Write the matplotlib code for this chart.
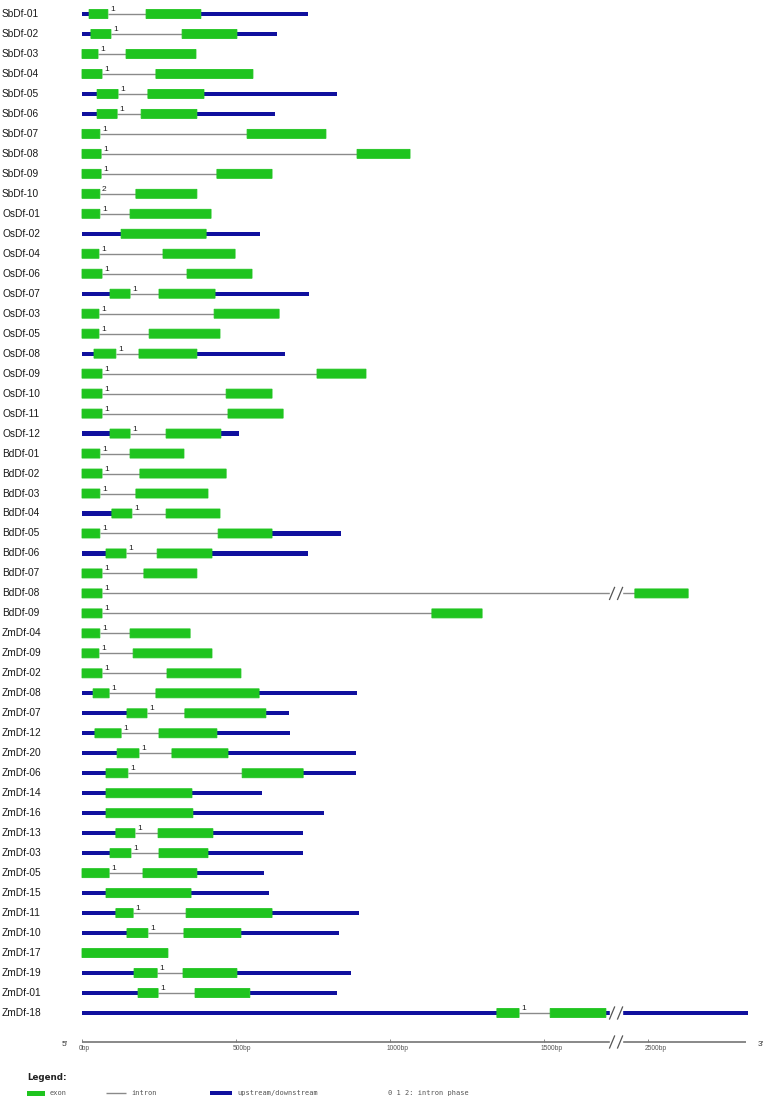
import matplotlib
matplotlib.use("Agg")
import matplotlib.pyplot as plt
from matplotlib.patches import FancyBboxPatch

plt.rcParams['font.family'] = ['Liberation Sans', 'DejaVu Sans']

# ---------------- data (bp, axis units; values past the break are in compressed axis units)
names = ["SbDf-01", "SbDf-02", "SbDf-03", "SbDf-04", "SbDf-05", "SbDf-06", "SbDf-07", "SbDf-08",
         "SbDf-09", "SbDf-10", "OsDf-01", "OsDf-02", "OsDf-04", "OsDf-06", "OsDf-07", "OsDf-03",
         "OsDf-05", "OsDf-08", "OsDf-09", "OsDf-10", "OsDf-11", "OsDf-12", "BdDf-01", "BdDf-02",
         "BdDf-03", "BdDf-04", "BdDf-05", "BdDf-06", "BdDf-07", "BdDf-08", "BdDf-09", "ZmDf-04",
         "ZmDf-09", "ZmDf-02", "ZmDf-08", "ZmDf-07", "ZmDf-12", "ZmDf-20", "ZmDf-06", "ZmDf-14",
         "ZmDf-16", "ZmDf-13", "ZmDf-03", "ZmDf-05", "ZmDf-15", "ZmDf-11", "ZmDf-10", "ZmDf-17",
         "ZmDf-19", "ZmDf-01", "ZmDf-18"]
exon1_start = [23, 29, 0, 0, 49, 49, 0, 0, 0, 0, 0, 127, 0, 0, 91, 0,
               0, 39, 0, 0, 0, 91, 0, 0, 0, 97, 0, 78, 0, 0, 0, 0,
               0, 0, 36, 146, 42, 114, 78, 78, 78, 110, 91, 0, 78, 110, 146, 0,
               169, 182, 1347]
exon1_end = [84, 94, 52, 65, 117, 114, 58, 62, 62, 58, 58, 403, 55, 65, 156, 55,
             55, 110, 65, 65, 65, 156, 58, 65, 58, 162, 58, 143, 65, 65, 65, 58,
             55, 65, 88, 211, 127, 185, 149, 357, 360, 172, 159, 88, 354, 166, 214, 279,
             244, 247, 1419]
# second exon (None = single-exon gene)
exon2_start = [208, 325, 143, 240, 214, 192, 536, 893, 438, 175, 156, None, 263, 341, 250, 429,
               218, 185, 763, 468, 474, 273, 156, 188, 175, 273, 442, 244, 201, 1795, 1136, 156,
               166, 276, 240, 334, 250, 292, 520, None, None, 247, 250, 198, None, 338, 331, None,
               328, 367, 1520]
exon2_end = [386, 503, 370, 555, 396, 373, 792, 1065, 617, 373, 419, None, 497, 552, 432, 640,
             448, 373, 922, 617, 653, 451, 331, 468, 409, 448, 617, 422, 373, 1968, 1299, 351,
             422, 516, 575, 597, 438, 474, 718, None, None, 425, 409, 373, None, 617, 516, None,
             503, 545, 1701]
gene_end = [734, 633, 370, 555, 828, 627, 792, 1065, 617, 373, 419, 578, 497, 552, 737, 640,
            448, 659, 922, 617, 653, 510, 331, 468, 409, 448, 841, 734, 373, 1968, 1299, 351,
            422, 516, 893, 672, 675, 890, 890, 584, 786, 718, 718, 591, 607, 899, 834, 279,
            873, 828, 2162]
phase = [1, 1, 1, 1, 1, 1, 1, 1, 1, 2, 1, None, 1, 1, 1, 1,
         1, 1, 1, 1, 1, 1, 1, 1, 1, 1, 1, 1, 1, 1, 1, 1,
         1, 1, 1, 1, 1, 1, 1, None, None, 1, 1, 1, None, 1, 1, None,
         1, 1, 1]
break_pos = 1734          # position of the "//" axis break
broken_genes = ["BdDf-08", "ZmDf-18"]
tick_pos = [0, 500, 1000, 1500, 1838]
tick_labels = ["0bp", "500bp", "1000bp", "1500bp", "2500bp"]
axis_end = 2155

# ---------------- style
GREEN = "#1FC41F"
BLUE = "#10109E"
GRAY = "#8a8a8a"
W, H = 769, 1104
X0_PX, PX_PER_500 = 82, 154.0
ROW0_PX, ROW_PX = 14.0, 19.98


def px2x(px):
    return (px - X0_PX) * 500.0 / PX_PER_500


def px2y(px):
    return (px - ROW0_PX) / ROW_PX


bpx = 500.0 / PX_PER_500   # bp per pixel
rpx = 1.0 / ROW_PX         # rows per pixel

fig = plt.figure(figsize=(W / 100, H / 100), dpi=100)
ax = fig.add_axes([0, 0, 1, 1])
ax.set_xlim(px2x(0), px2x(W))
ax.set_ylim(px2y(H), px2y(0))
ax.axis('off')

exon_h = 9 * rpx
utr_h = 4.3 * rpx


def exon(x0, x1, y):
    p = FancyBboxPatch((x0, y - exon_h / 2), x1 - x0, exon_h,
                       boxstyle="round,pad=0,rounding_size=0.0", fc=GREEN, ec=GREEN, lw=0.6, zorder=3)
    ax.add_patch(p)


def break_marks(y, x, height=12):
    g = 4 * bpx
    ax.fill_between([x - g - 2 * bpx, x + g + 2 * bpx], y - 6 * rpx, y + 6 * rpx, color="white", zorder=5)
    for dx in (-g, g):
        ax.plot([x + dx - 2.5 * bpx, x + dx + 2.5 * bpx], [y + height / 2 * rpx, y - height / 2 * rpx],
                color="#555555", lw=0.9, zorder=6)


for i, nm in enumerate(names):
    y = i
    ax.text(px2x(2), y, nm, fontsize=7.3, color="#1a1a1a", va="center", ha="left")
    e1s, e1e, e2s, e2e, ge = exon1_start[i], exon1_end[i], exon2_start[i], exon2_end[i], gene_end[i]
    # UTR (blue)
    last_end = e2e if e2e is not None else e1e
    if e1s > 0:
        ax.barh(y, e1s, left=0, height=utr_h, color=BLUE, zorder=2)
    if ge > last_end:
        ax.barh(y, ge - last_end, left=last_end, height=utr_h, color=BLUE, zorder=2)
    # intron
    if e2s is not None:
        ax.hlines(y, e1e, e2s, color=GRAY, lw=1.0, zorder=1)
    exon(e1s, e1e, y)
    if e2s is not None:
        exon(e2s, e2e, y)
    if phase[i] is not None:
        ax.text(e1e + 2 * bpx, y - 4.5 * rpx, str(phase[i]), fontsize=6, color="#222222",
                ha="left", va="center", zorder=4)
    if nm in broken_genes:
        break_marks(y, break_pos)

# ---------------- axis
ay = px2y(1042)
ax.hlines(ay, 0, axis_end, color="#888888", lw=1.4)
ax.text(px2x(62), ay + 2 * rpx, "5'", fontsize=6, ha="left", va="center", color="#333333")
ax.text(px2x(758), ay + 2 * rpx, "3'", fontsize=6, ha="left", va="center", color="#333333")
for tp, tl in zip(tick_pos, tick_labels):
    ax.vlines(tp, ay - 3 * rpx, ay, color="#777777", lw=0.6)
    ax.text(tp - 3 * bpx, ay + 6 * rpx, tl, fontsize=4.8, ha="left", va="center", color="#555555")
break_marks(ay, break_pos)

# ---------------- legend
ly = px2y(1093)
ax.text(px2x(27), px2y(1077), "Legend:", fontsize=6.3, fontweight="bold", ha="left", va="center",
        color="#222222", family="DejaVu Sans")
ax.barh(ly, 18 * bpx, left=px2x(27), height=5 * rpx, color=GREEN)
ax.text(px2x(50), ly, "exon", fontsize=5, ha="left", va="center", color="#555555", family="DejaVu Sans Mono")
ax.hlines(ly, px2x(106), px2x(126), color=GRAY, lw=1.0)
ax.text(px2x(131), ly, "intron", fontsize=5, ha="left", va="center", color="#555555", family="DejaVu Sans Mono")
ax.barh(ly, 22 * bpx, left=px2x(210), height=4 * rpx, color=BLUE)
ax.text(px2x(237), ly, "upstream/downstream", fontsize=5, ha="left", va="center", color="#555555",
        family="DejaVu Sans Mono")
ax.text(px2x(388), ly, "0 1 2: intron phase", fontsize=5, ha="left", va="center", color="#555555",
        family="DejaVu Sans Mono")

fig.savefig("out.png", dpi=100, facecolor="white")
